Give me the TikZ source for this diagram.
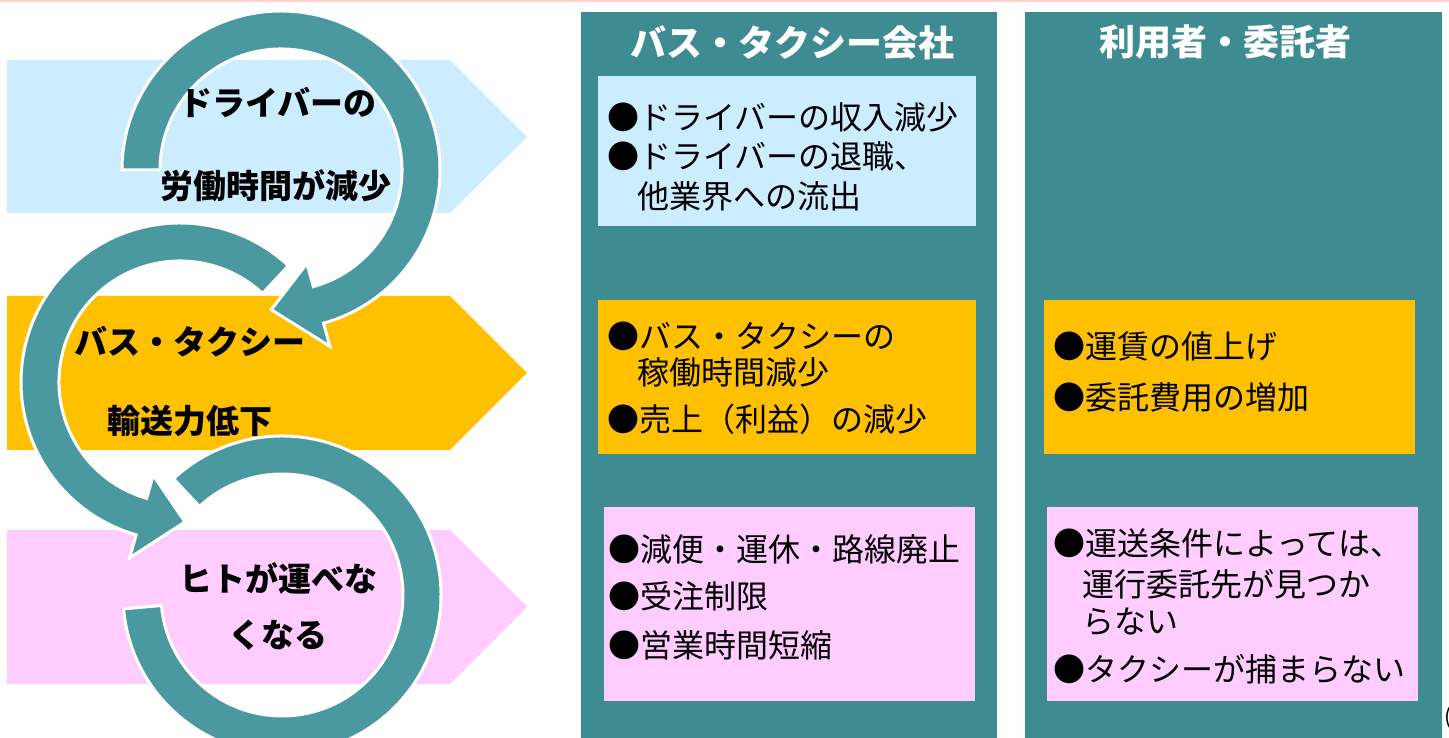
\documentclass[tikz,border=0pt]{standalone}
\usepackage{fontspec}
\setmainfont{Noto Sans CJK JP}
\usepackage{tikz}
\definecolor{skyband}{HTML}{CCECFF}
\definecolor{ambband}{HTML}{FFC000}
\definecolor{pinkband}{HTML}{FFCCFF}
\definecolor{panelteal}{HTML}{3E8C91}
\definecolor{cycleteal}{HTML}{4A99A0}
\definecolor{topline}{HTML}{FFD0D0}

\begin{document}
\begin{tikzpicture}[x=1pt,y=1pt,
    cyclearrow/.style={fill=cycleteal,draw=white,line width=3pt,line join=miter},
    stage/.style={inner sep=0pt,font=\fontsize{33}{40}\selectfont\bfseries},
    head/.style={inner sep=0pt,text=white,font=\fontsize{36}{44}\selectfont\bfseries},
    item/.style={anchor=west,inner sep=0pt,text height=28pt,text depth=4pt,font=\fontsize{32}{38}\selectfont}]
  \useasboundingbox (0,0) rectangle (1449,738);
  \clip (0,0) rectangle (1449,738);
  \fill[topline] (0,736) rectangle (1449,738);

  % bands on the left
  \fill[skyband] (7,678) -- (450,678) -- (527,601) -- (450,525) -- (7,525) -- cycle;
  \fill[ambband] (7,442) -- (450,442) -- (527,365) -- (450,288) -- (7,288) -- cycle;
  \fill[pinkband] (7,208) -- (450,208) -- (527,131) -- (450,54) -- (7,54) -- cycle;

  % the two columns
  \fill[panelteal] (581,0) rectangle (997,726);
  \fill[panelteal] (1025,0) rectangle (1442,726);
  \fill[skyband] (598,512) rectangle (976,662);
  \fill[ambband] (598,284) rectangle (976,438);
  \fill[pinkband] (604,37) rectangle (975,231);
  \fill[ambband] (1044,284) rectangle (1415,438);
  \fill[pinkband] (1047,37) rectangle (1418,231);

  % circular arrows
  \coordinate (c1) at (281,568);
  \coordinate (c2) at (180,356);
  \coordinate (c3) at (282,143);
  \path[cyclearrow] ([shift={(180:159)}]c1) arc[start angle=180,end angle=-74.5,radius=159]
    -- ([shift={(-74.5:183)}]c1) -- ([shift={(-94:140)}]c1) -- ([shift={(-74.5:97)}]c1)
    -- ([shift={(-74.5:121)}]c1) arc[start angle=-74.5,end angle=180,radius=121] -- cycle;
  \path[cyclearrow] ([shift={(47:159)}]c2) arc[start angle=47,end angle=254,radius=159]
    -- ([shift={(254:183)}]c2) -- ([shift={(272:140)}]c2) -- ([shift={(254:97)}]c2)
    -- ([shift={(254:121)}]c2) arc[start angle=254,end angle=47,radius=121] -- cycle;

  \draw (278,635) node[stage] (drv1) {ドライバーの};
  \draw (276,552) node[stage] (drv2) {労働時間が減少};
  \draw (190,396) node[stage] (bus1) {バス・タクシー};
  \draw (190,317) node[stage] (bus2) {輸送力低下};

  \path[cyclearrow] ([shift={(185:159)}]c3) arc[start angle=185,end angle=493,radius=159]
    -- ([shift={(493:121)}]c3) arc[start angle=493,end angle=185,radius=121] -- cycle;

  \draw (278,160) node[stage] (ppl1) {ヒトが運べな};
  \draw (278,103) node[stage] (ppl2) {くなる};

  % column heads
  \draw (792,695) node[head] (firm) {バス・タクシー会社};
  \draw (1225,696) node[head] (user) {利用者・委託者};

  % items
  \draw (607,620) node[item] (fa1) {●ドライバーの収入減少};
  \draw (607,581) node[item] (fa2) {●ドライバーの退職、};
  \draw (637,541) node[item] (fa3) {他業界への流出};
  \draw (607,401) node[item] (fb1) {●バス・タクシーの};
  \draw (637,365) node[item] (fb2) {稼働時間減少};
  \draw (607,318) node[item] (fb3) {●売上（利益）の減少};
  \draw (608,188) node[item] (fc1) {●減便・運休・路線廃止};
  \draw (608,141) node[item] (fc2) {●受注制限};
  \draw (608,92) node[item] (fc3) {●営業時間短縮};
  \draw (1053,391) node[item] (ub1) {●運賃の値上げ};
  \draw (1053,340) node[item] (ub2) {●委託費用の増加};
  \draw (1053,194) node[item] (uc1) {●運送条件によっては、};
  \draw (1082,153) node[item] (uc2) {運行委託先が見つか};
  \draw (1082,116) node[item] (uc3) {らない};
  \draw (1053,68) node[item] (uc4) {●タクシーが捕まらない};

  % cut-off mark at the edge
  \draw (1444,20) node[anchor=west,inner sep=0pt,font=\fontsize{22}{26}\selectfont] (pgno) {(};
\end{tikzpicture}
\end{document}
